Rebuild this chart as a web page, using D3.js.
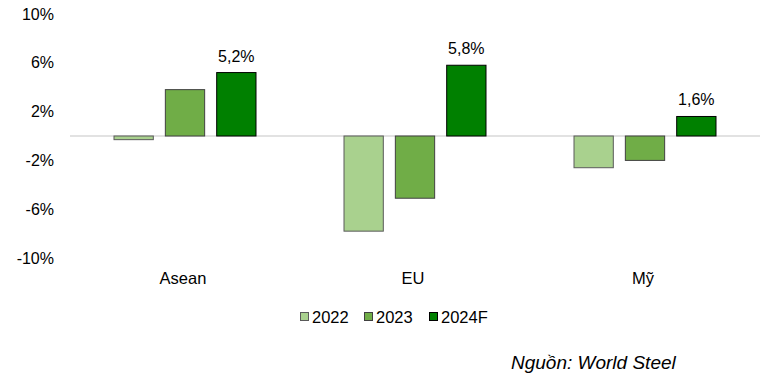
<!DOCTYPE html>
<html>
<head>
<meta charset="utf-8">
<script src="https://cdn.jsdelivr.net/npm/d3@7"></script>
<style>
  body { margin: 0; background: #fff; }
  svg { display: block; font-family: "Liberation Sans", Arial, sans-serif; }
</style>
</head>
<body>
<svg id="chart" width="765" height="383"></svg>
<script>
// Steel demand growth by region
const regions = ["Asean", "EU", "Mỹ"];
const years = ["2022", "2023", "2024F"];
const v2022 = [-0.3, -7.8, -2.6];
const v2023 = [3.8, -5.1, -2.0];
const v2024 = [5.2, 5.8, 1.6];
const yTicks = [10, 6, 2, -2, -6, -10];
const colors = ["#a9d18e", "#70ad47", "#008000"];
const strokes = ["#5a5a5a", "#404040", "#000000"];

const svg = d3.select("#chart");

const x = d3.scaleBand().domain(regions).range([70, 760]);
const xi = d3.scaleBand().domain(years).range([0, 143]).paddingInner(0.215);
const y = d3.scaleLinear().domain([-10, 10]).range([258, 14]);

const series = [v2022, v2023, v2024];

// y labels (no axis line)
svg.append("g")
  .selectAll("text")
  .data(yTicks)
  .enter()
  .append("text")
  .attr("x", 54)
  .attr("y", d => y(d))
  .attr("dy", "0.35em")
  .attr("text-anchor", "end")
  .attr("font-size", 16)
  .attr("fill", "#000")
  .text(d => d + "%");

// zero line
svg.append("line")
  .attr("x1", 70).attr("x2", 760)
  .attr("y1", y(0)).attr("y2", y(0))
  .attr("stroke", "#d9d9d9")
  .attr("stroke-width", 1.5);

// bars
const groups = svg.append("g")
  .selectAll("g")
  .data(regions)
  .enter()
  .append("g")
  .attr("transform", d => `translate(${x(d) + (x.bandwidth() - 143) / 2},0)`);

groups.selectAll("rect")
  .data((r, i) => years.map((yr, j) => ({ yr, j, v: series[j][i] })))
  .enter()
  .append("rect")
  .attr("x", d => xi(d.yr) + 0.5)
  .attr("y", d => Math.min(y(d.v), y(0)))
  .attr("width", xi.bandwidth() - 1)
  .attr("height", d => Math.abs(y(d.v) - y(0)))
  .attr("fill", d => colors[d.j])
  .attr("stroke", d => strokes[d.j])
  .attr("stroke-width", 1);

// value labels on 2024F
groups.append("text")
  .attr("x", xi("2024F") + xi.bandwidth() / 2)
  .attr("y", (r, i) => y(v2024[i]) - 11)
  .attr("text-anchor", "middle")
  .attr("font-size", 16)
  .text((r, i) => d3.format(".1f")(v2024[i]).replace(".", ",") + "%");

// category labels
svg.append("g")
  .selectAll("text")
  .data(regions)
  .enter()
  .append("text")
  .attr("x", d => x(d) + x.bandwidth() / 2 - 2)
  .attr("y", 284)
  .attr("text-anchor", "middle")
  .attr("font-size", 16.5)
  .text(d => d);

// legend
const legendX = [300, 364, 429];
const legend = svg.append("g")
  .selectAll("g")
  .data(years)
  .enter()
  .append("g")
  .attr("transform", (d, i) => `translate(${legendX[i]},317)`);

legend.append("rect")
  .attr("x", 0.5).attr("y", -4.5)
  .attr("width", 8).attr("height", 8)
  .attr("fill", (d, i) => colors[i])
  .attr("stroke", (d, i) => strokes[i]);

legend.append("text")
  .attr("x", 12)
  .attr("y", 0)
  .attr("dy", "0.36em")
  .attr("font-size", 16.5)
  .text(d => d);

// source
svg.append("text")
  .attr("x", 511)
  .attr("y", 369)
  .attr("font-size", 19)
  .attr("font-style", "italic")
  .text("Nguồn: World Steel");
</script>
</body>
</html>
